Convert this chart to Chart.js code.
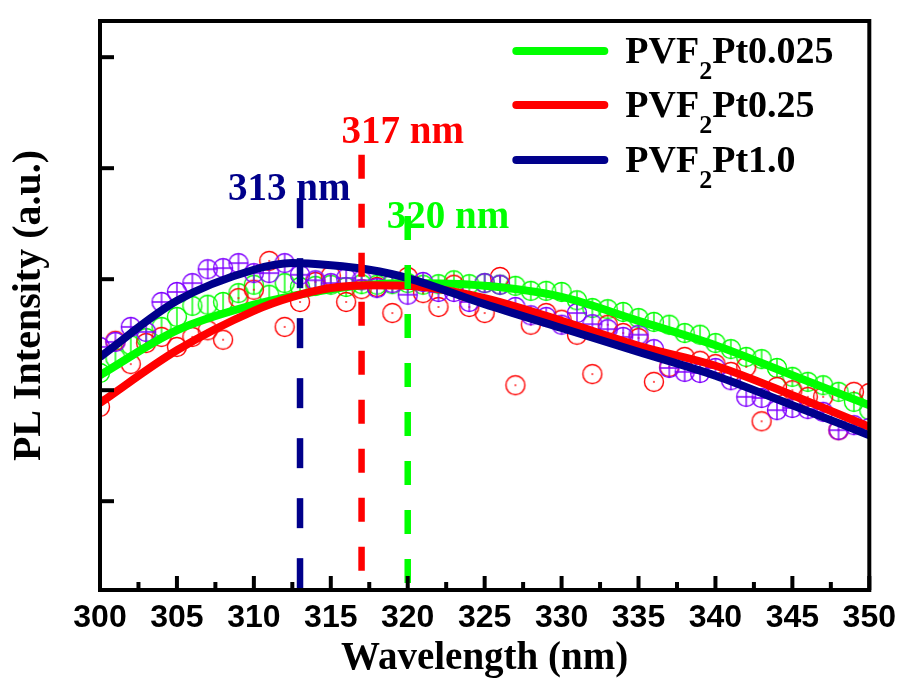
<!DOCTYPE html>
<html lang="en">
<head>
<meta charset="UTF-8">
<title>PL spectra of PVF2Pt films</title>
<script src="https://cdn.jsdelivr.net/npm/chart.js"></script>
<style>
  html, body { margin: 0; padding: 0; background: #fff; }
</style>
</head>
<body>
<canvas id="plChart" width="905" height="686"></canvas>
<script>
// wavelength grid of the measured points (nm)
const wavelengths = [300,301,302,303,304,305,306,307,308,309,310,311,312,313,314,315,316,317,318,319,
  320,321,322,323,324,325,326,327,328,329,330,331,332,333,334,335,336,337,338,339,
  340,341,342,343,344,345,346,347,348,349,350];

const pt0025Points = [2155,2290,2405,2470,2570,2660,2760,2770,2795,2875,
  2950,2860,2965,2930,2940,2950,2930,2955,2950,2955,
  2965,2950,2955,2990,2955,2965,2950,2940,2895,2895,
  2885,2810,2740,2730,2705,2650,2615,2590,2515,2500,
  2425,2370,2300,2280,2200,2120,2075,2045,1985,1895,1820];
const pt025Points = [1850,2445,2235,2425,2480,2390,2480,2540,2455,2830,
  2905,3165,2570,2795,2975,3030,2795,2910,2930,2695,
  3020,2875,2750,2950,2750,2695,3020,2045,2590,2695,
  2635,2500,2145,2590,2515,2470,2075,2210,2300,2265,
  2235,2165,2210,1720,2030,2000,1940,1940,1640,1985,1975];
const pt10Points = [2390,2435,2570,2525,2795,2885,2965,3090,3100,3145,
  3055,3055,3145,3040,2990,2965,3010,2990,2920,2965,
  2860,2975,2885,2885,2795,2965,2950,2750,2675,2660,
  2590,2695,2595,2550,2480,2500,2370,2200,2165,2155,
  2200,2090,1940,1930,1820,1840,1830,1805,1640,1685,1660];

// fitted curves
const fitWavelengths = [300,305,310,312.5,315,317.5,320,325,330,335,340,345,350];
const pt0025Fit = [2135,2540,2770,2850,2910,2950,2965,2940,2840,2625,2405,2135,1865];
const pt025Fit  = [1885,2360,2715,2840,2920,2945,2940,2830,2625,2400,2220,1955,1670];
const pt10Fit   = [2300,2805,3085,3145,3125,3085,3010,2775,2560,2345,2130,1865,1595];

// peak positions (dashed markers)
const peakWavelengths = [313, 317, 320];
const peakTops = [3730, 4120, 3570];
const peakLabels = ['313 nm', '317 nm', '320 nm'];

const seriesNames = ['PVF', 'PVF', 'PVF'];
const seriesTails = ['Pt0.025', 'Pt0.25', 'Pt1.0'];
const xMajorTicks = [300,305,310,315,320,325,330,335,340,345,350];
const xMinorTicks = [302.5,307.5,312.5,317.5,322.5,327.5,332.5,337.5,342.5,347.5];
const yMajorTicks = [1000,2000,3000,4000,5000];

const GREEN = '#00ff00', RED = '#ff0000', NAVY = '#00008b', VIOLET = '#8000ff';
const SERIF = "'Liberation Serif', 'Times New Roman', serif";
const SANS = "'Liberation Sans Narrow', 'Liberation Sans', Arial, sans-serif";

function makeMarker(color, kind) {
  const c = document.createElement('canvas');
  c.width = 24; c.height = 24;
  const g = c.getContext('2d');
  const r = 9.5;
  g.strokeStyle = color;
  g.lineWidth = 1.4;
  g.beginPath(); g.arc(12, 12, r, 0, Math.PI * 2); g.stroke();
  g.beginPath();
  if (kind === 'bar' || kind === 'cross') { g.moveTo(12, 12 - r); g.lineTo(12, 12 + r); }
  if (kind === 'cross') { g.moveTo(12 - r, 12); g.lineTo(12 + r, 12); }
  g.stroke();
  if (kind === 'dot') { g.fillStyle = color; g.fillRect(11.2, 11.2, 1.6, 1.6); }
  return c;
}

const pairs = (xs, ys) => xs.map((x, i) => ({ x: x, y: ys[i] }));

function peakLine(i, color) {
  return {
    data: [{ x: peakWavelengths[i], y: peakTops[i] }, { x: peakWavelengths[i], y: 200 }],
    borderColor: color, borderWidth: 6.5, borderDash: i === 0 ? [30, 30] : [24, 25],
    pointRadius: 0, fill: false
  };
}
function fitLine(ys, color) {
  return {
    data: pairs(fitWavelengths, ys), borderColor: color, borderWidth: 8,
    pointRadius: 0, cubicInterpolationMode: 'monotone', fill: false
  };
}
function pointSet(ys, color, kind) {
  return {
    data: pairs(wavelengths, ys), showLine: false, borderColor: color, borderWidth: 1,
    pointRadius: 10, pointStyle: makeMarker(color, kind)
  };
}

// frame + inward ticks
const frameTicks = {
  id: 'frameTicks',
  afterDatasetsDraw(chart) {
    const { ctx, chartArea: a, scales: { x, y } } = chart;
    ctx.save();
    ctx.strokeStyle = '#000';
    ctx.lineWidth = 4;
    const seg = (x1, y1, x2, y2) => { ctx.beginPath(); ctx.moveTo(x1, y1); ctx.lineTo(x2, y2); ctx.stroke(); };
    xMajorTicks.forEach(v => { const p = x.getPixelForValue(v); seg(p, a.bottom, p, a.bottom - 14); });
    xMinorTicks.forEach(v => { const p = x.getPixelForValue(v); seg(p, a.bottom, p, a.bottom - 8); });
    yMajorTicks.forEach(v => { const p = y.getPixelForValue(v); seg(a.left, p, a.left + 14, p); });
    ctx.strokeRect(a.left, a.top, a.right - a.left, a.bottom - a.top);
    ctx.restore();
  }
};

// legend with subscript and peak labels
const legendAndLabels = {
  id: 'legendAndLabels',
  afterDraw(chart) {
    const { ctx, chartArea: a, scales: { x, y } } = chart;
    const colors = [GREEN, RED, NAVY];
    const rows = [63, 117, 172];
    ctx.save();
    ctx.textBaseline = 'alphabetic';
    ctx.textAlign = 'left';
    rows.forEach((base, i) => {
      ctx.strokeStyle = colors[i];
      ctx.lineWidth = 8;
      ctx.lineCap = 'round';
      ctx.beginPath(); ctx.moveTo(a.right - 353, base - 12); ctx.lineTo(a.right - 265, base - 12); ctx.stroke();
      ctx.fillStyle = '#000';
      let tx = a.right - 244;
      ctx.font = 'bold 38px ' + SERIF;
      ctx.fillText(seriesNames[i], tx, base);
      tx += ctx.measureText(seriesNames[i]).width;
      ctx.font = 'bold 26px ' + SERIF;
      ctx.fillText('2', tx, base + 16);
      tx += ctx.measureText('2').width;
      ctx.font = 'bold 38px ' + SERIF;
      ctx.fillText(seriesTails[i], tx, base);
    });
    const labelColors = [NAVY, RED, GREEN];
    const dx = [-72, -20, -21];
    const dy = [2, -12, 12];
    ctx.font = 'bold 39px ' + SERIF;
    peakWavelengths.forEach((w, i) => {
      ctx.fillStyle = labelColors[i];
      ctx.fillText(peakLabels[i], x.getPixelForValue(w) + dx[i], y.getPixelForValue(peakTops[i]) + dy[i]);
    });
    ctx.restore();
  }
};

new Chart(document.getElementById('plChart'), {
  type: 'line',
  data: {
    datasets: [
      peakLine(0, NAVY), peakLine(1, RED), peakLine(2, GREEN),
      fitLine(pt10Fit, NAVY), fitLine(pt025Fit, RED), fitLine(pt0025Fit, GREEN),
      pointSet(pt10Points, VIOLET, 'cross'),
      pointSet(pt025Points, RED, 'dot'),
      pointSet(pt0025Points, GREEN, 'bar')
    ]
  },
  options: {
    responsive: false,
    animation: false,
    devicePixelRatio: 1,
    layout: { padding: { top: 21, right: 32, left: 0, bottom: 0 } },
    plugins: { legend: { display: false }, tooltip: { enabled: false } },
    scales: {
      x: {
        type: 'linear', min: 300, max: 350,
        grid: { display: false, drawTicks: false },
        border: { display: false },
        ticks: { stepSize: 5, padding: 9, color: '#000', font: { family: SANS, size: 32, weight: 'bold' } },
        title: { display: true, text: 'Wavelength (nm)', color: '#000', padding: { top: 0, bottom: 4 },
                 font: { family: SERIF, size: 39, weight: 'bold' } },
        afterFit: s => { s.height = 96; }
      },
      y: {
        type: 'linear', min: 200, max: 5326,
        grid: { display: false, drawTicks: false },
        border: { display: false },
        ticks: { display: false },
        title: { display: true, text: 'PL Intensity (a.u.)', color: '#000', padding: { top: 6, bottom: 0 },
                 font: { family: SERIF, size: 40, weight: 'bold' } },
        afterFit: s => { s.width = 100; }
      }
    }
  },
  plugins: [frameTicks, legendAndLabels]
});
</script>
</body>
</html>
